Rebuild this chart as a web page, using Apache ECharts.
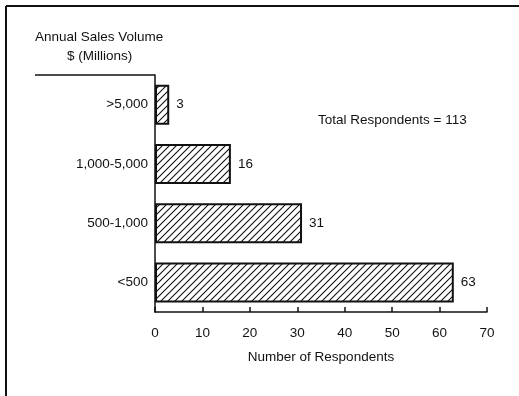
<!DOCTYPE html>
<html>
<head>
<meta charset="utf-8">
<script src="https://cdn.jsdelivr.net/npm/echarts@6/dist/echarts.min.js"></script>
<style>
  html, body { margin: 0; padding: 0; background: #ffffff; }
  #chart { width: 519px; height: 396px; }
</style>
</head>
<body>
<div id="chart"></div>
<script>
// Sales volume brackets, top to bottom
const categories = ['>5,000', '1,000-5,000', '500-1,000', '<500'];
// Respondents in each bracket
const respondents = [3, 16, 31, 63];
const xTicks = { min: 0, max: 70, step: 10 };
const totalNote = 'Total Respondents = 113';

// Diagonal hatch tile used as the bar fill
function hatchTile() {
  const s = 7;
  const c = document.createElement('canvas');
  c.width = s; c.height = s;
  const g = c.getContext('2d');
  g.fillStyle = '#ffffff';
  g.fillRect(0, 0, s, s);
  g.strokeStyle = '#111111';
  g.lineWidth = 1.1;
  g.beginPath();
  g.moveTo(0, s); g.lineTo(s, 0);
  g.moveTo(-1, 1); g.lineTo(1, -1);
  g.moveTo(s - 1, s + 1); g.lineTo(s + 1, s - 1);
  g.stroke();
  return c;
}

const font = 'Liberation Sans, Arial, Helvetica, sans-serif';
const fs = 13.5;
const chart = echarts.init(document.getElementById('chart'), null, { renderer: 'canvas' });

chart.setOption({
  backgroundColor: '#ffffff',
  animation: false,
  grid: { left: 155, right: 32, top: 75, bottom: 84, containLabel: false },
  xAxis: {
    type: 'value',
    min: xTicks.min, max: xTicks.max, interval: xTicks.step,
    name: 'Number of Respondents',
    nameLocation: 'middle',
    nameGap: 38,
    nameTextStyle: { color: '#111', fontFamily: font, fontSize: fs },
    axisLine: { show: true, lineStyle: { color: '#111', width: 1.5 } },
    axisTick: { show: true, inside: true, length: 5, lineStyle: { color: '#111', width: 1.5 } },
    axisLabel: { color: '#111', fontFamily: font, fontSize: fs, margin: 14 },
    splitLine: { show: false }
  },
  yAxis: {
    type: 'category',
    data: categories,
    inverse: true,
    axisLine: { show: true, lineStyle: { color: '#111', width: 1.5 } },
    axisTick: { show: false },
    axisLabel: { color: '#111', fontFamily: font, fontSize: fs, margin: 7 },
    splitLine: { show: false }
  },
  series: [{
    type: 'bar',
    data: respondents,
    barWidth: 40,
    itemStyle: {
      color: { image: hatchTile(), repeat: 'repeat' },
      borderColor: '#111',
      borderWidth: 2
    },
    label: {
      show: true, position: 'right', distance: 7,
      color: '#111', fontFamily: font, fontSize: fs
    }
  }],
  graphic: [
    { type: 'line', shape: { x1: 6, y1: 6, x2: 519, y2: 6 }, style: { stroke: '#111', lineWidth: 2 } },
    { type: 'line', shape: { x1: 6, y1: 6, x2: 6, y2: 396 }, style: { stroke: '#111', lineWidth: 2 } },
    { type: 'line', shape: { x1: 35, y1: 75, x2: 155, y2: 75 }, style: { stroke: '#111', lineWidth: 1.5 } },
    { type: 'text', left: 35, top: 30, style: { text: 'Annual Sales Volume', fill: '#111', font: fs + 'px ' + font } },
    { type: 'text', left: 67, top: 49, style: { text: '$ (Millions)', fill: '#111', font: fs + 'px ' + font } },
    { type: 'text', left: 318, top: 113, style: { text: totalNote, fill: '#111', font: fs + 'px ' + font } }
  ]
});
</script>
</body>
</html>
